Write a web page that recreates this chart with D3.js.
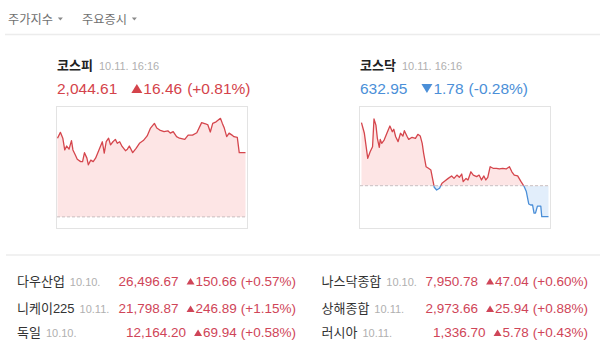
<!DOCTYPE html>
<html><head><meta charset="utf-8">
<script src="https://cdn.jsdelivr.net/npm/d3@7"></script>
<style>
html,body{margin:0;padding:0;background:#fff;}
svg{display:block;font-family:"Liberation Sans","Noto Sans CJK KR",sans-serif;}
</style></head>
<body><svg id="c" width="600" height="359"></svg>
<script>
// ---- data ----
const tabs = ["주가지수", "주요증시"];

const kospiInfo = {name:"코스피", date:"10.11. 16:16", value:"2,044.61", change:"16.46", pct:"(+0.81%)", dir:"up", prev:2028.15};
const kospiMinutes = [0,6,11,15,19,24,29,32,37,41,48,52,56,61,64,69,74,79,86,93,97,101,106,110,115,120,124,129,134,141,145,149,156,163,170,178,186,193,201,206,212,221,229,234,240,247,253,264,271,280,289,299,307,312,317,322,329,338,342,346,351,356,362,366,373,377,390];
const kospiValues = [2048.3,2049.8,2048.3,2045.3,2046.3,2045.5,2047.7,2045.3,2044.0,2042.9,2042.3,2042.3,2044.6,2043.2,2041.5,2042.7,2042.3,2043.2,2045.3,2047.4,2044.5,2047.4,2048.3,2046.6,2047.4,2048.0,2047.0,2047.4,2046.2,2045.1,2045.5,2046.3,2044.6,2045.7,2047.0,2047.7,2048.9,2050.9,2052.1,2050.9,2050.4,2050.0,2050.2,2049.6,2050.0,2048.7,2048.3,2048.0,2049.1,2049.1,2049.7,2052.3,2052.0,2051.7,2049.9,2052.1,2052.5,2053.4,2052.1,2050.9,2048.7,2049.6,2049.1,2048.7,2048.5,2044.61,2044.61];
const kospiDomain = [2025.3, 2056.3];

const kosdaqInfo = {name:"코스닥", date:"10.11. 16:16", value:"632.95", change:"1.78", pct:"(-0.28%)", dir:"down", prev:634.73};
const kosdaqMinutes = [2,8,15,20,25,28,32,35,39,41,44,49,56,61,66,69,73,78,83,88,91,97,100,107,114,119,124,128,131,136,141,146,150,153,158,164,169,175,182,189,194,200,205,210,213,219,223,229,234,241,246,251,256,260,264,269,275,282,288,295,302,309,314,319,326,333,339,344,349,353,357,360,363,367,374,376,390];
const kosdaqValues = [638.35,637.74,636.30,636.68,636.97,638.56,638.21,637.45,636.93,637.39,637.16,637.35,637.83,638.16,637.83,637.97,637.54,637.26,637.74,637.58,637.89,637.54,637.39,637.51,637.45,637.68,637.58,637.16,636.59,635.82,635.73,635.63,635.06,634.64,634.48,634.58,634.87,635.00,635.15,635.29,635.15,635.34,635.21,635.40,634.96,635.15,635.06,635.53,635.34,635.25,635.34,635.06,635.29,635.06,635.21,635.82,635.73,635.73,635.69,635.73,635.69,635.82,635.53,635.34,635.29,634.96,634.71,634.39,633.68,633.62,633.62,633.15,633.15,633.56,633.56,632.95,632.95];
const kosdaqDomain = [632.30, 639.25];

const worldNames = ["다우산업","니케이225","독일","나스닥종합","상해종합","러시아"];
const worldDates = ["10.10.","10.11.","10.10.","10.10.","10.11.","10.11."];
const worldValues = ["26,496.67","21,798.87","12,164.20","7,950.78","2,973.66","1,336.70"];
const worldChanges = ["150.66","246.89","69.94","47.04","25.94","5.78"];
const worldPcts = ["(+0.57%)","(+1.15%)","(+0.58%)","(+0.60%)","(+0.88%)","(+0.43%)"];

// ---- style ----
const RED = "#d5464d", RED_TXT = "#d4434b", BLUE = "#4b8fd8", RED_FILL = "#fde5e5", BLUE_FILL = "#e2eefb";
const TBL_RED = "#cf4558";
const svg = d3.select("#c");

function tri(x, yb, w, h, up, color){
  // x = left edge, yb = bottom (up) or top (down)
  const p = up ? `M${x},${yb}L${x+w/2},${yb-h}L${x+w},${yb}Z` : `M${x},${yb}L${x+w/2},${yb+h}L${x+w},${yb}Z`;
  svg.append("path").attr("d",p).attr("fill",color);
}

// header tabs
const tabX = [8, 82];
tabs.forEach((t,i)=>{
  const g = svg.append("text").attr("x",tabX[i]).attr("y",23.5).attr("fill","#707070").attr("font-size",12.2);
  g.append("tspan").text(t);
  const w = g.node().getComputedTextLength();
  svg.append("path").attr("d",`M${tabX[i]+w+5},17.5L${tabX[i]+w+10},17.5L${tabX[i]+w+7.5},20.5Z`).attr("fill","#8a8a8a");
});
svg.append("line").attr("x1",5).attr("x2",600).attr("y1",34.5).attr("y2",34.5).attr("stroke","#ececec").attr("stroke-width",1.5);
svg.append("line").attr("x1",6).attr("x2",600).attr("y1",255).attr("y2",255).attr("stroke","#ececec").attr("stroke-width",1.5);

function drawChart(left, info, minutes, values, domain){
  const top = 107, bottom = 228, right = left + 191;
  // title
  const t = svg.append("text").attr("x",left+1).attr("y",70).attr("font-size",13);
  t.append("tspan").attr("font-weight","bold").attr("fill","#222").text(info.name);
  t.append("tspan").attr("dx",6).attr("font-size",11).attr("fill","#b0b0b0").text(info.date);
  const up = info.dir==="up";
  const col = up ? RED_TXT : BLUE;
  const vt = svg.append("text").attr("x",left+1).attr("y",93.5).attr("font-size",15.5).attr("fill",col).text(info.value);
  const vw = vt.node().getComputedTextLength();
  const tx = left+1+vw+14;
  if (up) tri(tx, 93, 11, 9, true, col); else tri(tx, 84, 11, 9, false, col);
  svg.append("text").attr("x",tx+12).attr("y",93.5).attr("font-size",15.5).attr("fill",col)
    .text(info.change).append("tspan").attr("dx",5).text(info.pct);

  // box
  svg.append("rect").attr("x",left+0.5).attr("y",top-0.5).attr("width",right-left).attr("height",bottom-top+1)
    .attr("fill","#fff").attr("stroke","#e3e3e3");

  const x = d3.scaleLinear().domain([0,390]).range([left+1.5, right-1.5]);
  const y = d3.scaleLinear().domain(domain).range([bottom, top]);
  const data = minutes.map((m,i)=>({m, v: values[i]}));
  const yb = y(info.prev);
  const id = "c"+left;
  svg.append("clipPath").attr("id",id+"a").append("rect").attr("x",left).attr("y",top).attr("width",right-left).attr("height",yb-top);
  svg.append("clipPath").attr("id",id+"b").append("rect").attr("x",left).attr("y",yb).attr("width",right-left).attr("height",bottom-yb+2);
  const area = d3.area().x(d=>x(d.m)).y0(yb).y1(d=>y(d.v));
  const line = d3.line().x(d=>x(d.m)).y(d=>y(d.v));
  [["a",RED_FILL,RED],["b",BLUE_FILL,BLUE]].forEach(([k,f,s])=>{
    const g = svg.append("g").attr("clip-path",`url(#${id+k})`);
    g.append("path").datum(data).attr("d",area).attr("fill",f);
  });
  svg.append("line").attr("x1",left+1).attr("x2",right-1).attr("y1",yb).attr("y2",yb)
    .attr("stroke","#c9bfc0").attr("stroke-dasharray","3,2").attr("stroke-width",1);
  [["a",RED_FILL,RED],["b",BLUE_FILL,BLUE]].forEach(([k,f,s])=>{
    const g = svg.append("g").attr("clip-path",`url(#${id+k})`);
    g.append("path").datum(data).attr("d",line).attr("fill","none").attr("stroke",s).attr("stroke-width",1.3).attr("stroke-linejoin","round");
  });
}
drawChart(56, kospiInfo, kospiMinutes, kospiValues, kospiDomain);
drawChart(359, kosdaqInfo, kosdaqMinutes, kosdaqValues, kosdaqDomain);

// world table
const rowY = [285.5, 313, 337];
const colName = [17, 321.5], colEnd = [296, 588];
worldNames.forEach((n,i)=>{
  const c = Math.floor(i/3), r = i%3;
  const yy = rowY[r];
  const t = svg.append("text").attr("x",colName[c]).attr("y",yy).attr("font-size",13);
  t.append("tspan").attr("fill","#333").text(n);
  t.append("tspan").attr("dx",5).attr("font-size",11).attr("fill","#b0b0b0").text(worldDates[i]);
  const ct = svg.append("text").attr("x",colEnd[c]).attr("y",yy).attr("text-anchor","end").attr("font-size",13.5).attr("fill",TBL_RED);
  ct.append("tspan").text(worldChanges[i]);
  ct.append("tspan").attr("dx",4).text(worldPcts[i]);
  const cw = ct.node().getComputedTextLength() + 4;
  const tx = colEnd[c] - cw - 9;
  tri(tx, yy-1, 8, 6.5, true, TBL_RED);
  svg.append("text").attr("x",tx-8).attr("y",yy).attr("text-anchor","end").attr("font-size",13.5).attr("fill",TBL_RED).text(worldValues[i]);
});
</script></body></html>
